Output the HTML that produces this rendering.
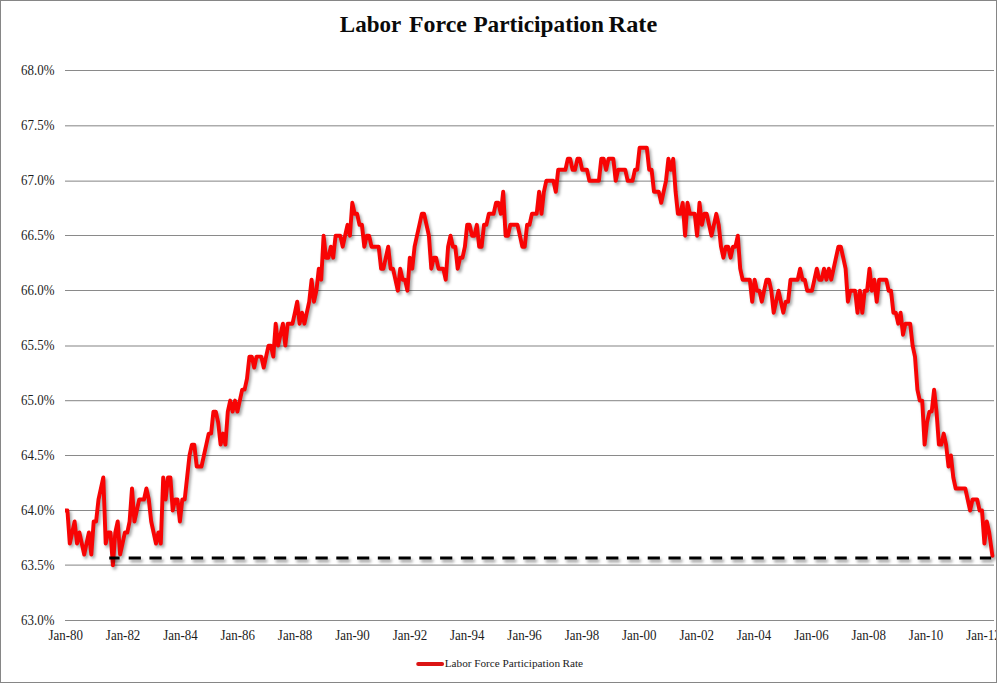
<!DOCTYPE html>
<html><head><meta charset="utf-8"><title>Labor Force Participation Rate</title>
<style>
html,body{margin:0;padding:0;background:#fff;}
body{width:1000px;height:683px;overflow:hidden;position:relative;font-family:"Liberation Serif",serif;}
svg{position:absolute;left:0;top:0;display:block;}
svg text{font-family:"Liberation Serif",serif;}
</style></head><body>
<svg width="1000" height="683" viewBox="0 0 1000 683">
<defs>
<filter id="sh" filterUnits="userSpaceOnUse" x="0" y="0" width="1000" height="683"><feGaussianBlur stdDeviation="1.4"/></filter>
<clipPath id="clip"><rect x="1" y="1" width="995" height="681"/></clipPath>
<clipPath id="plot"><rect x="65" y="40" width="935" height="600"/></clipPath>
</defs>
<rect x="0" y="0" width="1000" height="683" fill="#ffffff"/>
<g clip-path="url(#clip)">
<rect x="65" y="70" width="929" height="1" fill="#8a8a8a"/>
<rect x="65" y="125" width="929" height="1" fill="#acacac"/>
<rect x="65" y="126" width="929" height="1" fill="#d6d6d6"/>
<rect x="65" y="180" width="929" height="1" fill="#d0d0d0"/>
<rect x="65" y="181" width="929" height="1" fill="#b2b2b2"/>
<rect x="65" y="235" width="929" height="1" fill="#8a8a8a"/>
<rect x="65" y="290" width="929" height="1" fill="#8a8a8a"/>
<rect x="65" y="345" width="929" height="1" fill="#c1c1c1"/>
<rect x="65" y="346" width="929" height="1" fill="#c1c1c1"/>
<rect x="65" y="400" width="929" height="1" fill="#9c9c9c"/>
<rect x="65" y="401" width="929" height="1" fill="#e6e6e6"/>
<rect x="65" y="455" width="929" height="1" fill="#8a8a8a"/>
<rect x="65" y="510" width="929" height="1" fill="#8a8a8a"/>
<rect x="65" y="564" width="929" height="1" fill="#cdcdcd"/>
<rect x="65" y="565" width="929" height="1" fill="#b5b5b5"/>
<rect x="65" y="620" width="929" height="1" fill="#8a8a8a"/>

<g font-size="13.7px" fill="#1c1c1c">
<text transform="translate(54.5,74.6) scale(0.945,1)" text-anchor="end">68.0%</text>
<text transform="translate(54.5,129.6) scale(0.945,1)" text-anchor="end">67.5%</text>
<text transform="translate(54.5,184.6) scale(0.945,1)" text-anchor="end">67.0%</text>
<text transform="translate(54.5,239.6) scale(0.945,1)" text-anchor="end">66.5%</text>
<text transform="translate(54.5,294.6) scale(0.945,1)" text-anchor="end">66.0%</text>
<text transform="translate(54.5,349.6) scale(0.945,1)" text-anchor="end">65.5%</text>
<text transform="translate(54.5,404.6) scale(0.945,1)" text-anchor="end">65.0%</text>
<text transform="translate(54.5,459.6) scale(0.945,1)" text-anchor="end">64.5%</text>
<text transform="translate(54.5,514.6) scale(0.945,1)" text-anchor="end">64.0%</text>
<text transform="translate(54.5,569.6) scale(0.945,1)" text-anchor="end">63.5%</text>
<text transform="translate(54.5,624.6) scale(0.945,1)" text-anchor="end">63.0%</text>

<text transform="translate(65.7,639.5) scale(0.945,1)" text-anchor="middle">Jan-80</text>
<text transform="translate(123.1,639.5) scale(0.945,1)" text-anchor="middle">Jan-82</text>
<text transform="translate(180.4,639.5) scale(0.945,1)" text-anchor="middle">Jan-84</text>
<text transform="translate(237.8,639.5) scale(0.945,1)" text-anchor="middle">Jan-86</text>
<text transform="translate(295.1,639.5) scale(0.945,1)" text-anchor="middle">Jan-88</text>
<text transform="translate(352.5,639.5) scale(0.945,1)" text-anchor="middle">Jan-90</text>
<text transform="translate(409.9,639.5) scale(0.945,1)" text-anchor="middle">Jan-92</text>
<text transform="translate(467.2,639.5) scale(0.945,1)" text-anchor="middle">Jan-94</text>
<text transform="translate(524.6,639.5) scale(0.945,1)" text-anchor="middle">Jan-96</text>
<text transform="translate(581.9,639.5) scale(0.945,1)" text-anchor="middle">Jan-98</text>
<text transform="translate(639.3,639.5) scale(0.945,1)" text-anchor="middle">Jan-00</text>
<text transform="translate(696.7,639.5) scale(0.945,1)" text-anchor="middle">Jan-02</text>
<text transform="translate(754.0,639.5) scale(0.945,1)" text-anchor="middle">Jan-04</text>
<text transform="translate(811.4,639.5) scale(0.945,1)" text-anchor="middle">Jan-06</text>
<text transform="translate(868.7,639.5) scale(0.945,1)" text-anchor="middle">Jan-08</text>
<text transform="translate(926.1,639.5) scale(0.945,1)" text-anchor="middle">Jan-10</text>
<text transform="translate(983.5,639.5) scale(0.945,1)" text-anchor="middle">Jan-12</text>

</g>
<text transform="translate(339.80,31.60) scale(0.9594,1)" font-size="24px" font-weight="bold" fill="#0a0a0a">Labor</text>
<text transform="translate(409.00,31.60) scale(0.9966,1)" font-size="24px" font-weight="bold" fill="#0a0a0a">Force</text>
<text transform="translate(473.40,31.60) scale(0.9701,1)" font-size="24px" font-weight="bold" fill="#0a0a0a">Participation</text>
<text transform="translate(608.60,31.60) scale(1.0128,1)" font-size="24px" font-weight="bold" fill="#0a0a0a">Rate</text>

<polyline points="65.0,510.5 67.4,510.5 69.8,543.5 72.2,532.5 74.6,521.5 77.0,543.5 79.4,532.5 81.8,543.5 84.2,554.5 86.5,543.5 88.9,532.5 91.3,554.5 93.7,521.5 96.1,521.5 98.5,499.5 100.9,488.5 103.3,477.5 105.7,543.5 108.1,532.5 110.5,532.5 112.9,565.4 115.3,532.5 117.7,521.5 120.1,554.5 122.5,543.5 124.9,532.5 127.3,532.5 129.6,521.5 132.0,488.5 134.4,521.5 136.8,510.5 139.2,499.5 141.6,499.5 144.0,499.5 146.4,488.5 148.8,499.5 151.2,521.5 153.6,532.5 156.0,543.5 158.4,532.5 160.8,543.5 163.2,477.5 165.6,499.5 168.0,477.5 170.4,477.5 172.7,510.5 175.1,499.5 177.5,499.5 179.9,521.5 182.3,499.5 184.7,499.5 187.1,477.5 189.5,455.5 191.9,444.6 194.3,444.6 196.7,466.5 199.1,466.5 201.5,466.5 203.9,455.5 206.3,444.6 208.7,433.6 211.1,433.6 213.4,411.6 215.8,411.6 218.2,422.6 220.6,444.6 223.0,433.6 225.4,444.6 227.8,411.6 230.2,400.6 232.6,411.6 235.0,400.6 237.4,411.6 239.8,400.6 242.2,389.6 244.6,389.6 247.0,378.6 249.4,356.6 251.8,356.6 254.2,367.6 256.5,356.6 258.9,356.6 261.3,356.6 263.7,367.6 266.1,356.6 268.5,345.6 270.9,345.6 273.3,356.6 275.7,323.7 278.1,345.6 280.5,334.7 282.9,323.7 285.3,345.6 287.7,323.7 290.1,323.7 292.5,323.7 294.9,312.7 297.2,301.7 299.6,323.7 302.0,312.7 304.4,323.7 306.8,312.7 309.2,301.7 311.6,279.7 314.0,301.7 316.4,290.7 318.8,268.7 321.2,279.7 323.6,235.7 326.0,257.7 328.4,257.7 330.8,246.7 333.2,257.7 335.6,235.7 338.0,235.7 340.3,235.7 342.7,246.7 345.1,235.7 347.5,224.8 349.9,235.7 352.3,202.8 354.7,213.8 357.1,213.8 359.5,224.8 361.9,224.8 364.3,246.7 366.7,235.7 369.1,235.7 371.5,246.7 373.9,246.7 376.3,246.7 378.7,246.7 381.1,268.7 383.4,268.7 385.8,257.7 388.2,246.7 390.6,268.7 393.0,268.7 395.4,279.7 397.8,290.7 400.2,268.7 402.6,279.7 405.0,279.7 407.4,290.7 409.8,257.7 412.2,268.7 414.6,246.7 417.0,235.7 419.4,224.8 421.8,213.8 424.1,213.8 426.5,224.8 428.9,235.7 431.3,268.7 433.7,257.7 436.1,257.7 438.5,268.7 440.9,268.7 443.3,268.7 445.7,279.7 448.1,246.7 450.5,235.7 452.9,246.7 455.3,246.7 457.7,268.7 460.1,257.7 462.5,257.7 464.9,246.7 467.2,224.8 469.6,224.8 472.0,235.7 474.4,235.7 476.8,224.8 479.2,246.7 481.6,246.7 484.0,224.8 486.4,224.8 488.8,213.8 491.2,213.8 493.6,213.8 496.0,202.8 498.4,202.8 500.8,213.8 503.2,191.8 505.6,235.7 508.0,235.7 510.3,224.8 512.7,224.8 515.1,224.8 517.5,224.8 519.9,235.7 522.3,246.7 524.7,246.7 527.1,224.8 529.5,224.8 531.9,213.8 534.3,213.8 536.7,213.8 539.1,191.8 541.5,213.8 543.9,191.8 546.3,180.8 548.7,180.8 551.0,180.8 553.4,180.8 555.8,191.8 558.2,169.8 560.6,169.8 563.0,169.8 565.4,169.8 567.8,158.8 570.2,158.8 572.6,169.8 575.0,169.8 577.4,158.8 579.8,158.8 582.2,169.8 584.6,169.8 587.0,169.8 589.4,180.8 591.8,180.8 594.1,180.8 596.5,180.8 598.9,180.8 601.3,158.8 603.7,158.8 606.1,169.8 608.5,158.8 610.9,158.8 613.3,158.8 615.7,180.8 618.1,169.8 620.5,169.8 622.9,169.8 625.3,169.8 627.7,180.8 630.1,180.8 632.5,180.8 634.9,169.8 637.2,169.8 639.6,147.8 642.0,147.8 644.4,147.8 646.8,147.8 649.2,169.8 651.6,169.8 654.0,191.8 656.4,191.8 658.8,191.8 661.2,202.8 663.6,191.8 666.0,180.8 668.4,158.8 670.8,169.8 673.2,158.8 675.6,191.8 677.9,213.8 680.3,213.8 682.7,202.8 685.1,235.7 687.5,202.8 689.9,213.8 692.3,213.8 694.7,213.8 697.1,235.7 699.5,202.8 701.9,224.8 704.3,213.8 706.7,213.8 709.1,224.8 711.5,235.7 713.9,224.8 716.3,213.8 718.7,224.8 721.0,246.7 723.4,257.7 725.8,246.7 728.2,246.7 730.6,257.7 733.0,246.7 735.4,246.7 737.8,235.7 740.2,268.7 742.6,279.7 745.0,279.7 747.4,279.7 749.8,279.7 752.2,301.7 754.6,279.7 757.0,290.7 759.4,290.7 761.8,301.7 764.1,290.7 766.5,279.7 768.9,279.7 771.3,290.7 773.7,312.7 776.1,301.7 778.5,290.7 780.9,301.7 783.3,312.7 785.7,301.7 788.1,301.7 790.5,279.7 792.9,279.7 795.3,279.7 797.7,279.7 800.1,268.7 802.5,279.7 804.8,279.7 807.2,290.7 809.6,290.7 812.0,290.7 814.4,279.7 816.8,268.7 819.2,279.7 821.6,279.7 824.0,268.7 826.4,279.7 828.8,268.7 831.2,279.7 833.6,268.7 836.0,257.7 838.4,246.7 840.8,246.7 843.2,257.7 845.6,268.7 847.9,301.7 850.3,290.7 852.7,290.7 855.1,290.7 857.5,312.7 859.9,290.7 862.3,312.7 864.7,290.7 867.1,290.7 869.5,268.7 871.9,290.7 874.3,279.7 876.7,301.7 879.1,279.7 881.5,279.7 883.9,279.7 886.3,279.7 888.6,290.7 891.0,290.7 893.4,312.7 895.8,312.7 898.2,323.7 900.6,312.7 903.0,334.7 905.4,323.7 907.8,323.7 910.2,323.7 912.6,345.6 915.0,356.6 917.4,389.6 919.8,400.6 922.2,400.6 924.6,444.6 927.0,422.6 929.4,411.6 931.7,411.6 934.1,389.6 936.5,411.6 938.9,444.6 941.3,444.6 943.7,433.6 946.1,444.6 948.5,466.5 950.9,455.5 953.3,477.5 955.7,488.5 958.1,488.5 960.5,488.5 962.9,488.5 965.3,488.5 967.7,499.5 970.1,510.5 972.5,499.5 974.8,499.5 977.2,499.5 979.6,510.5 982.0,510.5 984.4,543.5 986.8,521.5 989.2,532.5 992.4,555.8" fill="none" stroke="#000" stroke-opacity="0.36" stroke-width="3.9" clip-path="url(#plot)" stroke-linejoin="round" stroke-linecap="round" transform="translate(1.8,2.4)" filter="url(#sh)"/>
<polyline points="65.0,510.5 67.4,510.5 69.8,543.5 72.2,532.5 74.6,521.5 77.0,543.5 79.4,532.5 81.8,543.5 84.2,554.5 86.5,543.5 88.9,532.5 91.3,554.5 93.7,521.5 96.1,521.5 98.5,499.5 100.9,488.5 103.3,477.5 105.7,543.5 108.1,532.5 110.5,532.5 112.9,565.4 115.3,532.5 117.7,521.5 120.1,554.5 122.5,543.5 124.9,532.5 127.3,532.5 129.6,521.5 132.0,488.5 134.4,521.5 136.8,510.5 139.2,499.5 141.6,499.5 144.0,499.5 146.4,488.5 148.8,499.5 151.2,521.5 153.6,532.5 156.0,543.5 158.4,532.5 160.8,543.5 163.2,477.5 165.6,499.5 168.0,477.5 170.4,477.5 172.7,510.5 175.1,499.5 177.5,499.5 179.9,521.5 182.3,499.5 184.7,499.5 187.1,477.5 189.5,455.5 191.9,444.6 194.3,444.6 196.7,466.5 199.1,466.5 201.5,466.5 203.9,455.5 206.3,444.6 208.7,433.6 211.1,433.6 213.4,411.6 215.8,411.6 218.2,422.6 220.6,444.6 223.0,433.6 225.4,444.6 227.8,411.6 230.2,400.6 232.6,411.6 235.0,400.6 237.4,411.6 239.8,400.6 242.2,389.6 244.6,389.6 247.0,378.6 249.4,356.6 251.8,356.6 254.2,367.6 256.5,356.6 258.9,356.6 261.3,356.6 263.7,367.6 266.1,356.6 268.5,345.6 270.9,345.6 273.3,356.6 275.7,323.7 278.1,345.6 280.5,334.7 282.9,323.7 285.3,345.6 287.7,323.7 290.1,323.7 292.5,323.7 294.9,312.7 297.2,301.7 299.6,323.7 302.0,312.7 304.4,323.7 306.8,312.7 309.2,301.7 311.6,279.7 314.0,301.7 316.4,290.7 318.8,268.7 321.2,279.7 323.6,235.7 326.0,257.7 328.4,257.7 330.8,246.7 333.2,257.7 335.6,235.7 338.0,235.7 340.3,235.7 342.7,246.7 345.1,235.7 347.5,224.8 349.9,235.7 352.3,202.8 354.7,213.8 357.1,213.8 359.5,224.8 361.9,224.8 364.3,246.7 366.7,235.7 369.1,235.7 371.5,246.7 373.9,246.7 376.3,246.7 378.7,246.7 381.1,268.7 383.4,268.7 385.8,257.7 388.2,246.7 390.6,268.7 393.0,268.7 395.4,279.7 397.8,290.7 400.2,268.7 402.6,279.7 405.0,279.7 407.4,290.7 409.8,257.7 412.2,268.7 414.6,246.7 417.0,235.7 419.4,224.8 421.8,213.8 424.1,213.8 426.5,224.8 428.9,235.7 431.3,268.7 433.7,257.7 436.1,257.7 438.5,268.7 440.9,268.7 443.3,268.7 445.7,279.7 448.1,246.7 450.5,235.7 452.9,246.7 455.3,246.7 457.7,268.7 460.1,257.7 462.5,257.7 464.9,246.7 467.2,224.8 469.6,224.8 472.0,235.7 474.4,235.7 476.8,224.8 479.2,246.7 481.6,246.7 484.0,224.8 486.4,224.8 488.8,213.8 491.2,213.8 493.6,213.8 496.0,202.8 498.4,202.8 500.8,213.8 503.2,191.8 505.6,235.7 508.0,235.7 510.3,224.8 512.7,224.8 515.1,224.8 517.5,224.8 519.9,235.7 522.3,246.7 524.7,246.7 527.1,224.8 529.5,224.8 531.9,213.8 534.3,213.8 536.7,213.8 539.1,191.8 541.5,213.8 543.9,191.8 546.3,180.8 548.7,180.8 551.0,180.8 553.4,180.8 555.8,191.8 558.2,169.8 560.6,169.8 563.0,169.8 565.4,169.8 567.8,158.8 570.2,158.8 572.6,169.8 575.0,169.8 577.4,158.8 579.8,158.8 582.2,169.8 584.6,169.8 587.0,169.8 589.4,180.8 591.8,180.8 594.1,180.8 596.5,180.8 598.9,180.8 601.3,158.8 603.7,158.8 606.1,169.8 608.5,158.8 610.9,158.8 613.3,158.8 615.7,180.8 618.1,169.8 620.5,169.8 622.9,169.8 625.3,169.8 627.7,180.8 630.1,180.8 632.5,180.8 634.9,169.8 637.2,169.8 639.6,147.8 642.0,147.8 644.4,147.8 646.8,147.8 649.2,169.8 651.6,169.8 654.0,191.8 656.4,191.8 658.8,191.8 661.2,202.8 663.6,191.8 666.0,180.8 668.4,158.8 670.8,169.8 673.2,158.8 675.6,191.8 677.9,213.8 680.3,213.8 682.7,202.8 685.1,235.7 687.5,202.8 689.9,213.8 692.3,213.8 694.7,213.8 697.1,235.7 699.5,202.8 701.9,224.8 704.3,213.8 706.7,213.8 709.1,224.8 711.5,235.7 713.9,224.8 716.3,213.8 718.7,224.8 721.0,246.7 723.4,257.7 725.8,246.7 728.2,246.7 730.6,257.7 733.0,246.7 735.4,246.7 737.8,235.7 740.2,268.7 742.6,279.7 745.0,279.7 747.4,279.7 749.8,279.7 752.2,301.7 754.6,279.7 757.0,290.7 759.4,290.7 761.8,301.7 764.1,290.7 766.5,279.7 768.9,279.7 771.3,290.7 773.7,312.7 776.1,301.7 778.5,290.7 780.9,301.7 783.3,312.7 785.7,301.7 788.1,301.7 790.5,279.7 792.9,279.7 795.3,279.7 797.7,279.7 800.1,268.7 802.5,279.7 804.8,279.7 807.2,290.7 809.6,290.7 812.0,290.7 814.4,279.7 816.8,268.7 819.2,279.7 821.6,279.7 824.0,268.7 826.4,279.7 828.8,268.7 831.2,279.7 833.6,268.7 836.0,257.7 838.4,246.7 840.8,246.7 843.2,257.7 845.6,268.7 847.9,301.7 850.3,290.7 852.7,290.7 855.1,290.7 857.5,312.7 859.9,290.7 862.3,312.7 864.7,290.7 867.1,290.7 869.5,268.7 871.9,290.7 874.3,279.7 876.7,301.7 879.1,279.7 881.5,279.7 883.9,279.7 886.3,279.7 888.6,290.7 891.0,290.7 893.4,312.7 895.8,312.7 898.2,323.7 900.6,312.7 903.0,334.7 905.4,323.7 907.8,323.7 910.2,323.7 912.6,345.6 915.0,356.6 917.4,389.6 919.8,400.6 922.2,400.6 924.6,444.6 927.0,422.6 929.4,411.6 931.7,411.6 934.1,389.6 936.5,411.6 938.9,444.6 941.3,444.6 943.7,433.6 946.1,444.6 948.5,466.5 950.9,455.5 953.3,477.5 955.7,488.5 958.1,488.5 960.5,488.5 962.9,488.5 965.3,488.5 967.7,499.5 970.1,510.5 972.5,499.5 974.8,499.5 977.2,499.5 979.6,510.5 982.0,510.5 984.4,543.5 986.8,521.5 989.2,532.5 992.4,555.8" fill="none" stroke="#f80404" stroke-width="3.9" stroke-linejoin="round" stroke-linecap="round" clip-path="url(#plot)"/>
<g transform="translate(1.8,2.8)" filter="url(#sh)" stroke="#000" stroke-opacity="0.40" stroke-width="3"><line x1="109.2" y1="558.0" x2="119.6" y2="558.0"/><line x1="128.7" y1="558.0" x2="991.2" y2="558.0" stroke-dasharray="12.2 8.56"/></g>
<g stroke="#000" stroke-width="3"><line x1="109.2" y1="558.0" x2="119.6" y2="558.0"/><line x1="128.7" y1="558.0" x2="991.2" y2="558.0" stroke-dasharray="12.2 8.56"/></g>
<rect x="416.2" y="661.9" width="27.9" height="4" rx="2" fill="#db1414"/>
<text transform="translate(444.78,667.00) scale(1.0160,1)" font-size="11px" font-weight="normal" fill="#1c1c1c">Labor</text>
<text transform="translate(474.18,667.00) scale(1.0167,1)" font-size="11px" font-weight="normal" fill="#1c1c1c">Force</text>
<text transform="translate(502.47,667.00) scale(1.0273,1)" font-size="11px" font-weight="normal" fill="#1c1c1c">Participation</text>
<text transform="translate(562.47,667.00) scale(1.0263,1)" font-size="11px" font-weight="normal" fill="#1c1c1c">Rate</text>

</g>
<rect x="0" y="0" width="997" height="1" fill="#868686"/>
<rect x="0" y="0" width="1" height="683" fill="#868686"/>
<rect x="996" y="0" width="1" height="683" fill="#868686"/>
<rect x="0" y="682" width="997" height="1" fill="#868686"/>
</svg>
</body></html>
